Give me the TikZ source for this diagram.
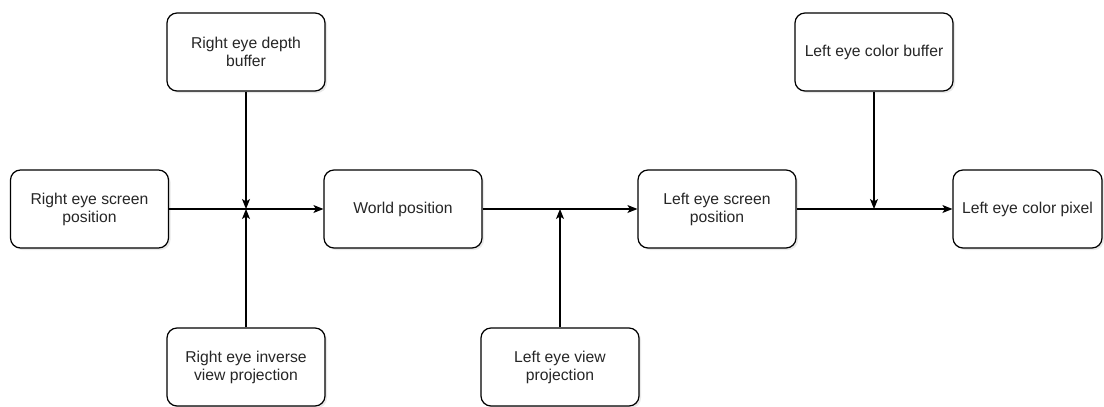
\documentclass[tikz,border=0pt]{standalone}
\usepackage{fontspec}
\setmainfont{Liberation Sans}
\usetikzlibrary{arrows.meta,shadows}
\begin{document}
\begin{tikzpicture}[x=1pt,y=-1pt,
  box/.style={draw,line width=1.2pt,rounded corners=10pt,fill=white,
    minimum width=158pt,minimum height=78pt,inner sep=2pt,align=center,
    font=\fontsize{15.7}{18}\selectfont,text=black!85,
    drop shadow={shadow xshift=2pt,shadow yshift=-2pt,opacity=0.25,fill=gray!70}},
  flow/.style={line width=1.2pt,-{Stealth[length=10pt,width=8pt,inset=2.5pt]}}]
\useasboundingbox (0,0) rectangle (1104,407);
\node[box] (RD) at (246,52){Right eye depth\\buffer};
\node[box] (RS) at (89.5,209){Right eye screen\\position};
\node[box] (RI) at (246,367){Right eye inverse\\view projection};
\node[box] (WP) at (403,209){World position};
\node[box] (LV) at (560,367){Left eye view\\projection};
\node[box] (LS) at (717,209){Left eye screen\\position};
\node[box] (LB) at (874,52){Left eye color buffer};
\node[box,minimum width=149pt] (LP) at (1027.5,209){Left eye color pixel};
\coordinate (J1) at (246,209);
\coordinate (J2) at (560,209);
\coordinate (J3) at (874,209);
\draw[flow] (RS) -- (WP);
\draw[flow] (WP) -- (LS);
\draw[flow] (LS) -- (LP);
\draw[flow] (RD) -- (J1);
\draw[flow] (RI) -- (J1);
\draw[flow] (LV) -- (J2);
\draw[flow] (LB) -- (J3);
\end{tikzpicture}
\end{document}
